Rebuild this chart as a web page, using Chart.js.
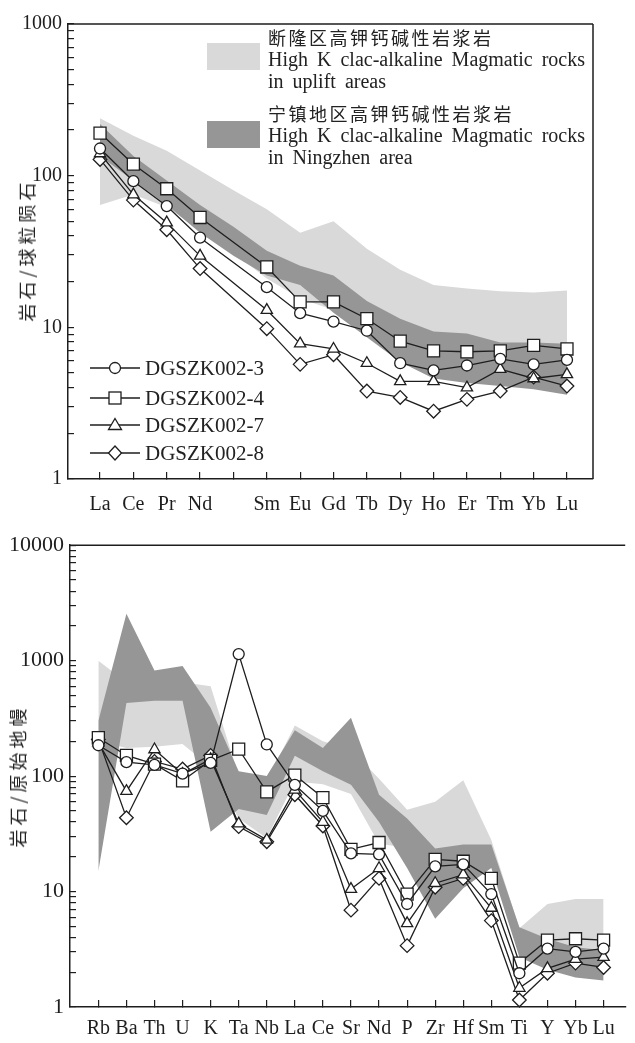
<!DOCTYPE html>
<html>
<head>
<meta charset="utf-8">
<script src="https://cdn.jsdelivr.net/npm/chart.js@4.4.1/dist/chart.umd.min.js"></script>
<style>
  body { margin: 0; background: #fff; }
  #page { position: relative; width: 635px; height: 1043px; overflow: hidden; color: #222; }
  canvas { position: absolute; left: 0; }
  #reeChart { top: 0; }
  #spiderChart { top: 520px; }
  .ytitle { position: absolute; font-family: 'Noto Sans CJK SC'; font-size: 18px; letter-spacing: 4px;
            white-space: nowrap; transform: translate(-50%, -50%) rotate(-90deg); }
  .swatch { position: absolute; left: 207px; width: 53px; height: 27px; }
  .key { position: absolute; left: 268px; }
  .key div { height: 22px; line-height: 22px; white-space: nowrap; }
  .key .cn { font-family: 'Noto Sans CJK SC'; font-size: 18px; letter-spacing: 2.5px; }
  .key .en { font-family: 'Liberation Serif'; font-size: 20px; word-spacing: 4px; }
  .row { position: absolute; left: 90px; height: 24px; white-space: nowrap; }
  .row svg { position: absolute; left: 0; top: 0; }
  .row span { position: absolute; left: 55px; top: 0; line-height: 24px; font-family: 'Liberation Serif'; font-size: 21px; }
</style>
</head>
<body>
<div id="page">
  <canvas id="reeChart" width="635" height="520"></canvas>
  <canvas id="spiderChart" width="635" height="523"></canvas>

  <div class="ytitle" style="left:26px; top:250px;">岩石/球粒陨石</div>
  <div class="ytitle" style="left:17px; top:776px;">岩石/原始地幔</div>

  <div class="swatch" style="top:43px; background:#d9d9d9;"></div>
  <div class="key" style="top:26px;">
    <div class="cn">断隆区高钾钙碱性岩浆岩</div>
    <div class="en">High K clac-alkaline Magmatic rocks</div>
    <div class="en">in uplift areas</div>
  </div>
  <div class="swatch" style="top:121px; background:#969696;"></div>
  <div class="key" style="top:102px;">
    <div class="cn">宁镇地区高钾钙碱性岩浆岩</div>
    <div class="en">High K clac-alkaline Magmatic rocks</div>
    <div class="en">in Ningzhen area</div>
  </div>

  <div id="sampleKey"></div>
</div>

<script>
// ---- data: REE chondrite-normalised (top) ----
const reeLabels = ['La', 'Ce', 'Pr', 'Nd', '', 'Sm', 'Eu', 'Gd', 'Tb', 'Dy', 'Ho', 'Er', 'Tm', 'Yb', 'Lu'];
const reeS3 = [151, 92, 63, 39, null, 18.4, 12.4, 10.9, 9.5, 5.8, 5.2, 5.6, 6.2, 5.7, 6.1];
const reeS4 = [191, 119, 82, 53, null, 25, 14.7, 14.7, 11.4, 8.1, 7.0, 6.9, 7.0, 7.6, 7.2];
const reeS7 = [140, 75, 49, 29.6, null, 13, 7.8, 7.2, 5.8, 4.4, 4.4, 4.0, 5.3, 4.6, 4.9];
const reeS8 = [128, 69, 44, 24.4, null, 9.8, 5.7, 6.6, 3.8, 3.45, 2.8, 3.35, 3.8, 4.7, 4.1];
const reeUpliftHigh = [239, 183, 146, 108, 80, 60, 42, 50, 33, 24, 19, 18, 17.3, 17, 17.5];
const reeUpliftLow = [64, 75, 62, 44, 31, 21, 15.5, 13, 9, 6.2, 5, 4.6, 4.3, 4.1, 3.8];
const reeNingHigh = [219, 135, 93, 64, 46, 32, 25.5, 22, 14.9, 11.4, 9.4, 9.1, 7.95, 7.95, 7.8];
const reeNingLow = [135, 93, 64, 42, 29.6, 22, 19, 12.5, 8.6, 5.9, 4.6, 4.3, 4.1, 3.9, 3.6];
const reeYMajor = [1, 10, 100, 1000];

// ---- data: primitive-mantle normalised spider (bottom) ----
const spiderLabels = ['Rb', 'Ba', 'Th', 'U', 'K', 'Ta', 'Nb', 'La', 'Ce', 'Sr', 'Nd', 'P', 'Zr', 'Hf', 'Sm', 'Ti', 'Y', 'Yb', 'Lu'];
const spS3 = [185, 132, 125, 105, 130, 1140, 188, 84, 50, 21.4, 21, 7.8, 16.5, 17.2, 9.5, 1.96, 3.2, 3.0, 3.2];
const spS4 = [215, 151, 127, 91, 137, 171, 73, 102, 65, 23.2, 26.6, 9.5, 19, 18.3, 13, 2.4, 3.8, 3.9, 3.8];
const spS7 = [195, 74, 170, 104, 140, 38.7, 28, 76, 40, 10.5, 15.9, 5.3, 11.8, 14, 7.2, 1.46, 2.16, 2.6, 2.7];
const spS8 = [208, 43.6, 134, 115, 151, 36.5, 27, 69, 37, 6.9, 13, 3.4, 10.9, 13, 5.6, 1.15, 1.96, 2.4, 2.2];
const spUpliftHigh = [1000, 650, 650, 650, 600, 100, 90, 275, 200, 170, 95, 51, 60, 92, 28, 4.8, 7.8, 8.6, 8.6];
const spUpliftLow = [200, 175, 180, 190, 120, 43, 29, 90, 85, 70, 26, 24, 22, 24, 18, 3.5, 2.8, 2.4, 2.3];
const spNingHigh = [300, 2550, 820, 900, 390, 110, 100, 250, 175, 320, 69, 43, 23.6, 25.6, 25.6, 4.9, 3.9, 3.3, 3.1];
const spNingLow = [15, 430, 450, 450, 33, 52, 46, 150, 110, 84, 40, 16, 5.8, 10.7, 16, 2.7, 2.1, 1.8, 1.7];
const spYMajor = [1, 10, 100, 1000, 10000];

const sampleNames = ['DGSZK002-3', 'DGSZK002-4', 'DGSZK002-7', 'DGSZK002-8'];
const sampleStyles = ['circle', 'rect', 'triangle', 'rectRot'];
const sampleRadius = [5.5, 8.5, 6.5, 6.8];
const INK = '#1e1e1e';
const LIGHT = '#d9d9d9';
const DARK = '#969696';

Chart.defaults.font.family = "'Liberation Serif', 'Times New Roman', serif";
Chart.defaults.color = INK;

function toPoints(values) {
    return values.map((v, i) => v == null ? null : { x: i, y: v }).filter(p => p);
}

// major ticks plus 2..9 inside each decade
function decadeTicks(majors) {
    const out = [];
    majors.forEach((m, i) => {
        if (i === majors.length - 1) { out.push(m); return; }
        for (let k = 1; k < 10; k++) out.push(m * k);
    });
    return out;
}

function bandSets(high, low, color, order) {
    return [
        { data: toPoints(high), fill: '+1', backgroundColor: color, borderColor: 'rgba(0,0,0,0)',
          borderWidth: 0, pointRadius: 0, tension: 0, order: order },
        { data: toPoints(low), fill: false, backgroundColor: color, borderColor: 'rgba(0,0,0,0)',
          borderWidth: 0, pointRadius: 0, tension: 0, order: order }
    ];
}

function sampleSets(series) {
    return series.map((vals, i) => ({
        label: sampleNames[i],
        data: toPoints(vals),
        borderColor: INK,
        borderWidth: 1.3,
        pointStyle: sampleStyles[i],
        pointRadius: sampleRadius[i],
        pointBackgroundColor: '#fff',
        pointBorderColor: INK,
        pointBorderWidth: 1.3,
        fill: false,
        tension: 0,
        clip: false,
        order: 0
    }));
}

// top & right frame lines
const framePlugin = {
    id: 'frame',
    afterDraw(chart, args, opts) {
        const { ctx, chartArea: a } = chart;
        ctx.save();
        ctx.strokeStyle = INK;
        ctx.lineWidth = 1.5;
        ctx.beginPath();
        ctx.moveTo(a.left, a.top);
        ctx.lineTo(a.right, a.top);
        if (opts.right) {
            ctx.moveTo(a.right, a.top);
            ctx.lineTo(a.right, a.bottom);
        }
        ctx.stroke();
        ctx.restore();
    }
};

function makeChart(id, cfg) {
    const yTicks = decadeTicks(cfg.majors);
    return new Chart(document.getElementById(id), {
        type: 'line',
        data: {
            datasets: [
                ...bandSets(cfg.upliftHigh, cfg.upliftLow, LIGHT, 2),
                ...bandSets(cfg.ningHigh, cfg.ningLow, DARK, 1),
                ...sampleSets(cfg.samples)
            ]
        },
        options: {
            responsive: false,
            animation: false,
            events: [],
            layout: { padding: cfg.padding },
            plugins: {
                legend: { display: false },
                tooltip: { enabled: false },
                frame: { right: cfg.frameRight }
            },
            scales: {
                x: {
                    type: 'linear',
                    min: cfg.xMin,
                    max: cfg.xMax,
                    afterBuildTicks: s => { s.ticks = cfg.labels.map((_, i) => ({ value: i })); },
                    afterFit: s => { s.height = cfg.xHeight; },
                    ticks: {
                        autoSkip: false,
                        maxRotation: 0,
                        padding: cfg.xPad,
                        font: { size: 20 },
                        callback: v => cfg.labels[v]
                    },
                    grid: { drawOnChartArea: false, tickLength: -7, color: INK, lineWidth: 1.2 },
                    border: { color: INK, width: 1.5 }
                },
                y: {
                    type: 'logarithmic',
                    min: cfg.majors[0],
                    max: cfg.majors[cfg.majors.length - 1],
                    afterBuildTicks: s => { s.ticks = yTicks.map(v => ({ value: v })); },
                    afterFit: s => { s.width = cfg.yWidth; },
                    ticks: {
                        autoSkip: false,
                        padding: 12,
                        font: { size: cfg.yFont },
                        callback: v => cfg.majors.includes(v) ? String(v) : ''
                    },
                    grid: { drawOnChartArea: false, tickLength: -6, color: INK, lineWidth: 1.2 },
                    border: { color: INK, width: 1.5 }
                }
            }
        },
        plugins: [framePlugin]
    });
}

makeChart('reeChart', {
    labels: reeLabels,
    samples: [reeS3, reeS4, reeS7, reeS8],
    upliftHigh: reeUpliftHigh, upliftLow: reeUpliftLow,
    ningHigh: reeNingHigh, ningLow: reeNingLow,
    majors: reeYMajor,
    xMin: -0.96, xMax: 14.78,
    padding: { top: 16, right: 42, left: 0, bottom: 0 },
    xHeight: 41, xPad: 21, yWidth: 68, yFont: 20,
    frameRight: true
});

makeChart('spiderChart', {
    labels: spiderLabels,
    samples: [spS3, spS4, spS7, spS8],
    upliftHigh: spUpliftHigh, upliftLow: spUpliftLow,
    ningHigh: spNingHigh, ningLow: spNingLow,
    majors: spYMajor,
    xMin: -1.01, xMax: 18.77,
    padding: { top: 23, right: 0, left: 0, bottom: 0 },
    xHeight: 36, xPad: 17, yWidth: 70, yFont: 22,
    frameRight: false
});

// sample legend (top chart, lower left)
const rowTops = [356, 386, 413, 441];
const markerSvg = [
    '<circle cx="25" cy="12" r="5.5"/>',
    '<rect x="19" y="6" width="12" height="12"/>',
    '<polygon points="25,5.5 31.5,16.5 18.5,16.5"/>',
    '<polygon points="25,5 31.5,12 25,19 18.5,12"/>'
];
const keyBox = document.getElementById('sampleKey');
sampleNames.forEach((name, i) => {
    const row = document.createElement('div');
    row.className = 'row';
    row.style.top = rowTops[i] + 'px';
    row.innerHTML =
        '<svg width="52" height="24"><line x1="0" y1="12" x2="50" y2="12" stroke="' + INK + '" stroke-width="1.3"/>' +
        '<g fill="#fff" stroke="' + INK + '" stroke-width="1.3">' + markerSvg[i] + '</g></svg>' +
        '<span>' + name + '</span>';
    keyBox.appendChild(row);
});
</script>
</body>
</html>
